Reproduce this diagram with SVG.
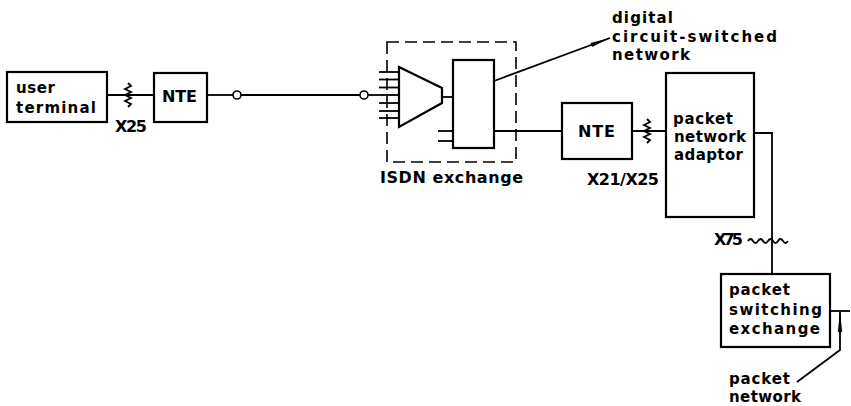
<svg xmlns="http://www.w3.org/2000/svg" width="851" height="406" viewBox="0 0 851 406">
<defs>
<style>
.box{fill:#fff;stroke:#000;stroke-width:2.2}
.ln{fill:none;stroke:#000;stroke-width:1.8}
.dash{fill:none;stroke:#000;stroke-width:1.6;stroke-dasharray:12 6}
.t{font-family:"DejaVu Sans","Liberation Sans",sans-serif;font-weight:bold;font-size:16px;fill:#000}
.s{font-size:15px}
.circ{fill:#fff;stroke:#000;stroke-width:1.6}
</style>
<marker id="ah" viewBox="0 0 20 6" refX="20" refY="3" markerWidth="20" markerHeight="6" markerUnits="userSpaceOnUse" orient="auto">
<path d="M0,0.8 L20,3 L0,5.2 Z" fill="#000"/>
</marker>
</defs>
<rect width="851" height="406" fill="#fff"/>
<g id="connectors">
<line class="ln" x1="107" y1="95" x2="154" y2="95"/>
<path class="ln" d="M128,83 l3,3 l-6,3 l6,3 l-6,3 l6,3 l-6,3 l6,3 l-3,3"/>
<line class="ln" x1="207" y1="95" x2="233" y2="95"/>
<circle class="circ" cx="237" cy="95" r="4"/>
<line class="ln" x1="241" y1="95" x2="360" y2="95"/>
<circle class="circ" cx="364" cy="95" r="4"/>
<line class="ln" x1="368" y1="95" x2="399" y2="95"/>
<line class="ln" x1="494" y1="131" x2="562" y2="131"/>
<line class="ln" x1="632" y1="131" x2="666" y2="131"/>
<path class="ln" d="M647,119 l3,3 l-6,3 l6,3 l-6,3 l6,3 l-6,3 l6,3 l-3,3"/>
<path class="ln" d="M754,133 H772 V274"/>
<path class="ln" d="M748,241 q2.5,-4 5,0 t5,0 t5,0 t5,0 t5,0 t5,0 t5,0 t5,0"/>
<line class="ln" x1="494" y1="81" x2="610" y2="38" marker-end="url(#ah)"/>
<line class="ln" x1="830" y1="311" x2="850" y2="311"/>
<path class="ln" d="M797,382 L840,350 V312" marker-end="url(#ah)"/>
</g>
<g id="user-terminal">
<rect class="box" x="7" y="72" width="100" height="50"/>
<text class="t s" x="16" y="93" textLength="39">user</text>
<text class="t s" x="16" y="113" textLength="80">terminal</text>
</g>
<text class="t" x="115" y="132" textLength="32">X25</text>
<g id="nte1">
<rect class="box" x="154" y="73" width="53" height="49"/>
<text class="t" x="162" y="102" textLength="35">NTE</text>
</g>
<g id="isdn-exchange">
<rect class="dash" x="387" y="42" width="129" height="120"/>
<g class="ln">
<line x1="379" y1="72" x2="399" y2="72"/>
<line x1="379" y1="79.5" x2="399" y2="79.5"/>
<line x1="379" y1="87.5" x2="399" y2="87.5"/>
<line x1="379" y1="103" x2="399" y2="103"/>
<line x1="379" y1="111" x2="399" y2="111"/>
<line x1="379" y1="118" x2="399" y2="118"/>
<line x1="442" y1="97" x2="453" y2="97"/>
<line x1="438" y1="131" x2="453" y2="131"/>
<line x1="438" y1="141" x2="453" y2="141"/>
</g>
<path class="box" d="M399,67 L442,88 V103 L399,127 Z"/>
<rect class="box" x="453" y="60" width="41" height="88"/>
<text class="t" x="380" y="183" textLength="143">ISDN exchange</text>
</g>
<g id="digital-network-label">
<text class="t s" x="612" y="23" textLength="61">digital</text>
<text class="t s" x="612" y="42" textLength="165">circuit-switched</text>
<text class="t s" x="612" y="60" textLength="78">network</text>
</g>
<g id="nte2">
<rect class="box" x="562" y="103" width="70" height="56"/>
<text class="t" x="578" y="137" textLength="37">NTE</text>
</g>
<text class="t" x="587" y="185" textLength="72">X21/X25</text>
<g id="packet-network-adaptor">
<rect class="box" x="666" y="73" width="88" height="144"/>
<text class="t s" x="673" y="124" textLength="60">packet</text>
<text class="t s" x="674" y="142" textLength="72">network</text>
<text class="t s" x="674" y="160" textLength="69">adaptor</text>
</g>
<text class="t" x="714" y="245" textLength="29">X75</text>
<g id="packet-switching-exchange">
<rect class="box" x="721" y="274" width="109" height="73"/>
<text class="t s" x="729" y="295" textLength="61">packet</text>
<text class="t s" x="729" y="315" textLength="93">switching</text>
<text class="t s" x="729" y="334" textLength="91">exchange</text>
</g>
<g id="packet-network-label">
<text class="t s" x="729" y="384" textLength="61">packet</text>
<text class="t s" x="729" y="402" textLength="72">network</text>
</g>
</svg>
